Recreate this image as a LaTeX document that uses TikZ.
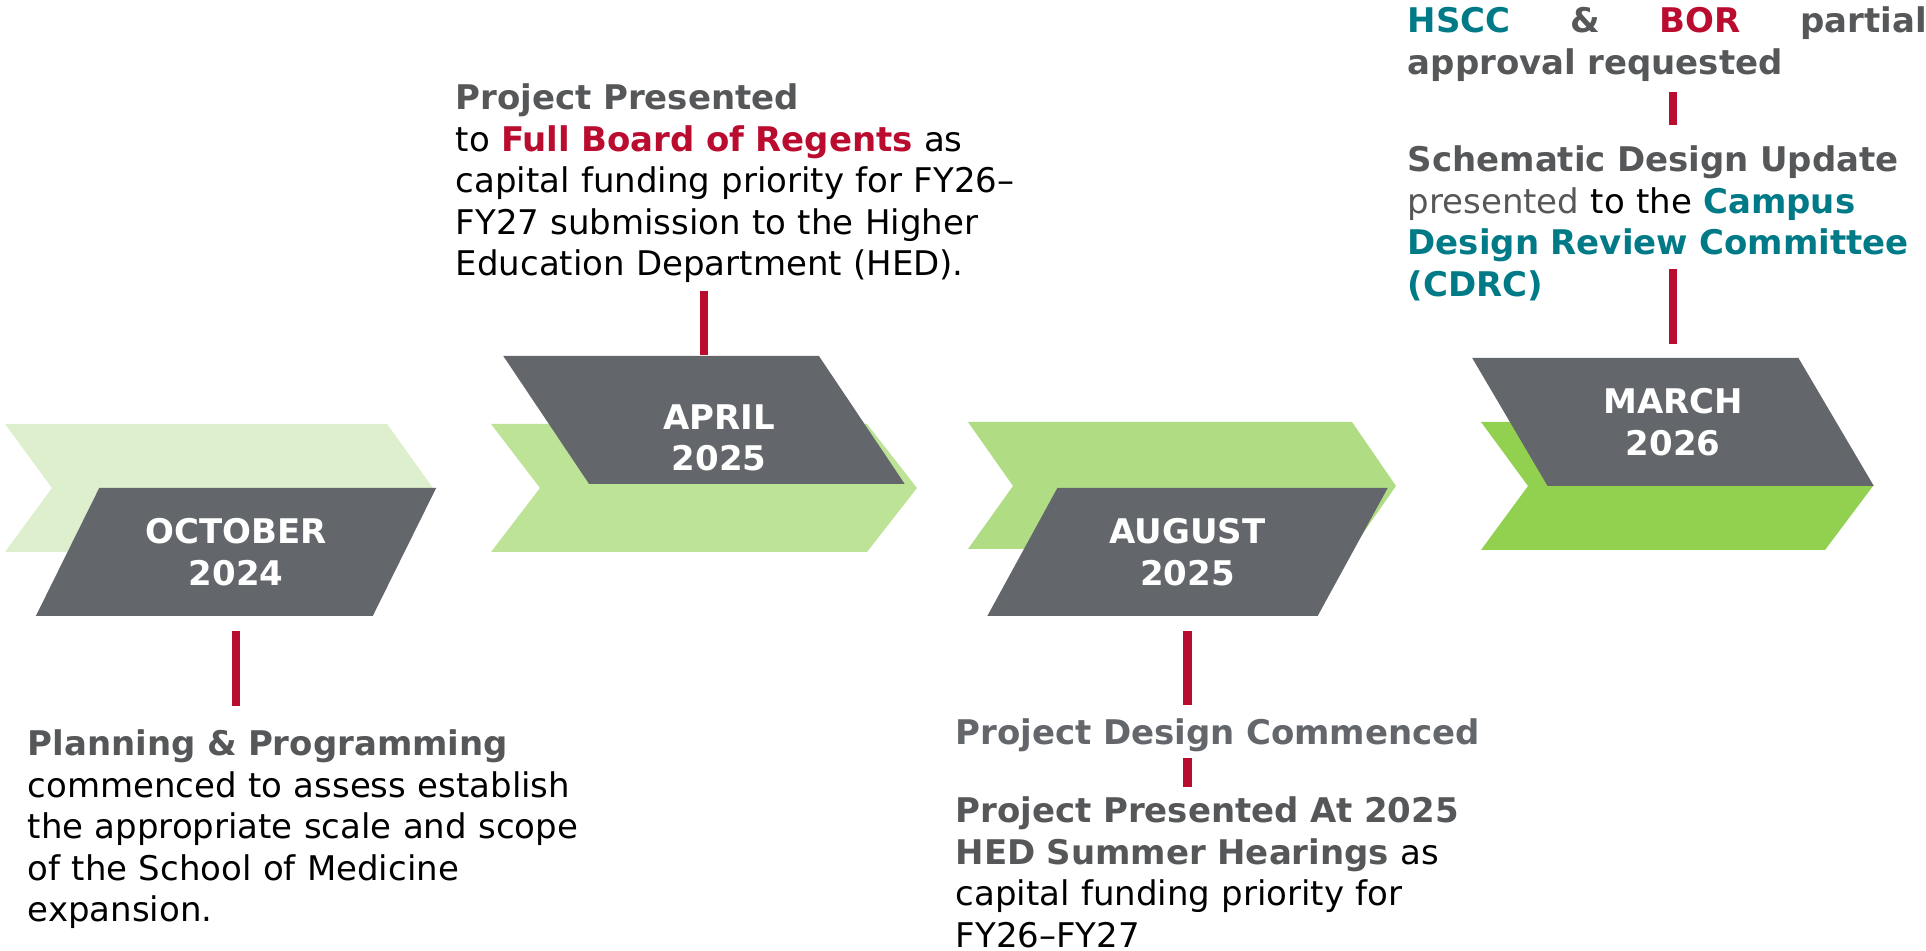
\documentclass[tikz,border=0pt]{standalone}
\usepackage{fontspec}
\setmainfont{DejaVu Sans}
\usepackage{tikz}
\usetikzlibrary{shapes.geometric}

\definecolor{lobogray}{HTML}{63666A}
\definecolor{textgray}{HTML}{555759}
\definecolor{cherry}{HTML}{BA0C2F}
\definecolor{turq}{HTML}{007A86}
\definecolor{green1}{HTML}{DDEFCD}
\definecolor{green2}{HTML}{BDE396}
\definecolor{green3}{HTML}{B0DC84}
\definecolor{green4}{HTML}{92D050}

\tikzstyle{datetext} = [inner sep=0pt,
text centered, align=center,
text=white, 
font=\fontsize{9.67}{11.8}\selectfont\bfseries]
\tikzstyle{datebox} = [trapezium, 
trapezium stretches=true,
minimum width=4.02cm, 
minimum height=1.28cm, 
datetext,
fill=lobogray]
\tikzstyle{leanright} = [datebox, trapezium left angle=58, trapezium right angle=122]
\tikzstyle{leanleft} = [datebox, trapezium left angle=122, trapezium right angle=58]
\tikzstyle{note} = [text width=6cm, 
align=left, 
inner sep=0pt, 
anchor=base west]
\tikzstyle{link} = [cherry, line width=2.3pt]

\begin{document}
\begin{tikzpicture}[font=\fontsize{9.67}{11.8}\selectfont]
	\useasboundingbox (0,0) rectangle (19.26,9.51);
	% arrows behind the dates
	\fill[green1] (0.05,5.27) -- (3.87,5.27) -- (4.33,4.63) -- (3.87,3.99) -- (0.05,3.99) -- (0.52,4.63) -- cycle;
	\fill[green2] (4.91,5.27) -- (8.67,5.27) -- (9.17,4.63) -- (8.67,3.99) -- (4.91,3.99) -- (5.40,4.63) -- cycle;
	\fill[green3] (9.68,5.29) -- (13.52,5.29) -- (13.96,4.65) -- (13.52,4.02) -- (9.68,4.02) -- (10.13,4.65) -- cycle;
	\fill[green4] (14.81,5.29) -- (18.25,5.29) -- (18.73,4.65) -- (18.25,4.01) -- (14.81,4.01) -- (15.28,4.65) -- cycle;

	\node (oct) [leanright] at (2.36,3.99) {OCTOBER\\2024};
	\node (apr) [leanleft] at (7.04,5.31) {\phantom{APRIL}\\\phantom{2025}};
	\node (apr_txt) [datetext, xshift=0.15cm, yshift=-0.18cm] at (apr) {APRIL\\2025};
	\node (aug) [leanright] at (11.875,3.99) {AUGUST\\2025};
	\node (mar) [leanleft] at (16.73,5.29) {MARCH\\2026};

	\node (plan) [note] at (0.27,1.95) {{\bfseries\color{textgray}Planning \& Programming}\\commenced to assess establish\\the appropriate scale and scope\\of the School of Medicine\\expansion.};
	\node (regents) [note] at (4.55,8.41) {{\bfseries\color{textgray}Project Presented}\\to {\bfseries\color{cherry}Full Board of Regents} as\\capital funding priority for FY26–\\FY27 submission to the Higher\\Education Department (HED).};
	\node (design) [note] at (9.55,2.06) {{\bfseries\color{lobogray}Project Design Commenced}};
	\node (hearings) [note] at (9.55,1.28) {{\bfseries\color{textgray}Project Presented At 2025}\\{\bfseries\color{textgray}HED Summer Hearings} as\\capital funding priority for\\FY26–FY27};
	\node (hscc) [note, text width=5.19cm] at (14.07,9.18) {{\bfseries\color{turq}HSCC}\hfill{\bfseries\color{textgray}\&}\hfill{\bfseries\color{cherry}BOR}\hfill{\bfseries\color{textgray}partial}\\{\bfseries\color{textgray}approval requested}};
	\node (cdrc) [note] at (14.07,7.79) {{\bfseries\color{textgray}Schematic Design Update}\\{\color{textgray}presented} to the {\bfseries\color{turq}Campus}\\{\bfseries\color{turq}Design Review Committee}\\{\bfseries\color{turq}(CDRC)}};

	\draw [link, shorten <=0.14cm, shorten >=0.50cm] (oct.south) -- (oct.south |- plan.base);
	\draw [link, shorten >=0.07cm] (apr.north) -- (apr.north |- regents.south);
	\draw [link, shorten <=0.14cm, shorten >=0.40cm] (aug.south) -- (aug.south |- design.base);
	\draw [link, shorten <=0.05cm, shorten >=0.36cm] (aug.south |- design.south) -- (aug.south |- hearings.base);
	\draw [link, shorten <=0.13cm, shorten >=0.97cm] (mar.north) -- (mar.north |- cdrc.base);
	\draw [link, shorten <=0.10cm, shorten >=0.47cm] (mar.north |- hscc.south) -- (mar.north |- cdrc.base);
\end{tikzpicture}
\end{document}
